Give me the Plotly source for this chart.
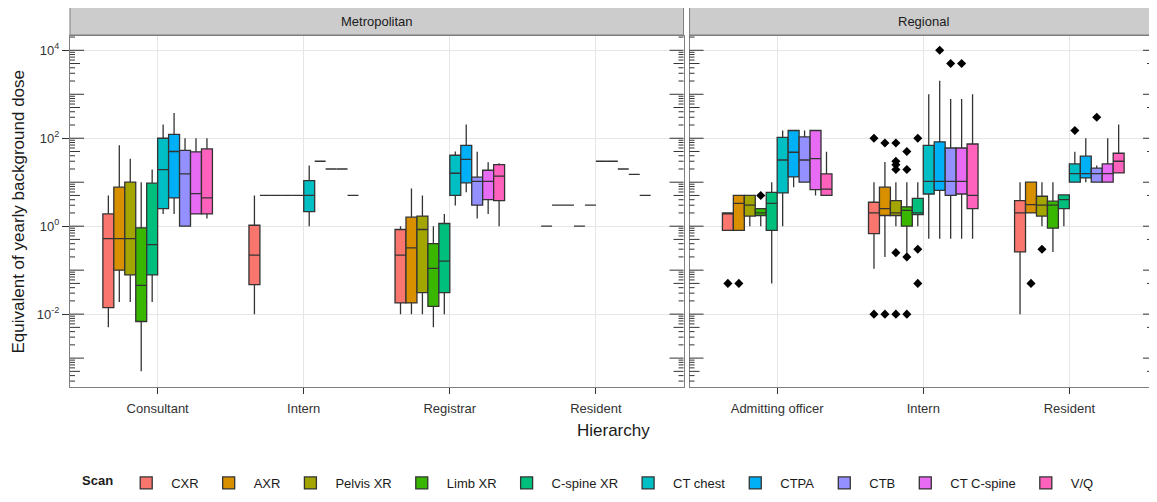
import math
import plotly.graph_objects as go
from plotly.subplots import make_subplots

scans = ["CXR", "AXR", "Pelvis XR", "Limb XR", "C-spine XR",
         "CT chest", "CTPA", "CTB", "CT C-spine", "V/Q"]
scan_colors = ["#F8766D", "#D89000", "#A3A500", "#39B600", "#00BF7D",
               "#00BFC4", "#00B0F6", "#9590FF", "#E76BF3", "#FF62BC"]

# ---------------- Metropolitan (rows = scans, cols = categories) ----------------
metro_cats = ["Consultant", "Intern", "Registrar", "Resident"]
metro_lo = [
    [0.005, 0.01, 0.01, 1], [0.019, 5, 0.01, 3], [0.019, 5, 0.01, 3],
    [0.0005, 5, 0.005, 1], [0.019, 5, 0.01, 3], [1.9, 1, 2.95, 30],
    [1.9, 30, 5.9, 30], [1, 20, 1.5, 20], [1.9, 20, 1.9, 15], [1.5, 5, 1, 5]]
metro_q1 = [
    [0.014, 0.047, 0.018, 1], [0.1, 5, 0.018, 3], [0.078, 5, 0.031, 3],
    [0.0068, 5, 0.015, 1], [0.078, 5, 0.031, 3], [2.5, 2.15, 5, 30],
    [4.4, 30, 9.7, 30], [1, 20, 3, 20], [1.9, 20, 4, 15], [1.9, 5, 3.8, 5]]
metro_med = [
    [0.52, 0.22, 0.22, 1], [0.52, 5, 0.32, 3], [0.52, 5, 0.84, 3],
    [0.045, 5, 0.11, 1], [0.38, 5, 0.16, 3], [19.4, 5, 16, 30],
    [50, 30, 33, 30], [15.5, 20, 10.4, 20], [5.5, 20, 10.4, 15], [4.4, 5, 13.7, 5]]
metro_q3 = [
    [1.9, 1.05, 0.84, 1], [7.7, 5, 1.6, 3], [10, 5, 1.7, 3],
    [0.92, 5, 0.40, 1], [9.5, 5, 1.15, 3], [100, 10.9, 41, 30],
    [123, 30, 69, 30], [53, 20, 13, 20], [49, 20, 18.7, 15], [57, 5, 25, 5]]
metro_hi = [
    [5, 5, 1, 1], [69, 5, 7.2, 3], [34, 5, 5, 3],
    [10, 5, 1, 1], [19.4, 5, 1.9, 3], [204, 24, 50, 30],
    [377, 30, 204, 30], [100, 20, 49, 20], [100, 20, 28.5, 15], [100, 5, 27, 5]]
metro_out_cat = []
metro_out_scan = []
metro_out_val = []

# ---------------- Regional ----------------
reg_cats = ["Admitting officer", "Intern", "Resident"]
reg_lo = [
    [0.8, 0.107, 0.01], [0.8, 0.2, 2.0], [1, 1, 1], [1, 0.25, 0.26], [0.05, 1, 1],
    [1, 0.52, 10], [7.7, 0.52, 10], [10, 0.52, 10], [5, 0.52, 10], [5, 0.52, 16.3]]
reg_q1 = [
    [0.8, 0.68, 0.26], [0.8, 1.75, 2.0], [1.7, 1.75, 1.7], [1.75, 1, 0.9], [0.8, 1.84, 2.5],
    [5.7, 5.4, 10], [13.2, 6.5, 12.5], [10, 5, 10], [6.8, 5.4, 10], [5, 2.5, 16.3]]
reg_med = [
    [2.0, 2.0, 2.0], [3.3, 2.5, 3.1], [3, 2, 3], [2.0, 2.3, 3], [3.3, 2.0, 4],
    [32, 10.4, 15.7], [48, 10.4, 15.7], [32, 10.4, 15.7], [34.5, 10.4, 15.7], [7, 5, 30]]
reg_q3 = [
    [2.0, 3.5, 3.8], [5, 7.7, 10], [5, 3.8, 4.8], [2.5, 2.75, 3.7], [5.9, 4.3, 5.15],
    [105, 69, 26], [150, 83, 39], [107, 60, 21], [150, 60, 26], [15.5, 74, 45.6]]
reg_hi = [
    [2.0, 10, 10], [5, 29, 10], [5, 10, 10], [2.5, 10, 10], [10, 10, 5.15],
    [150, 1000, 49], [150, 2040, 100], [150, 780, 24], [150, 780, 100], [49, 1000, 204]]
reg_out_cat = ["Admitting officer", "Admitting officer", "Admitting officer",
               "Intern", "Intern", "Intern", "Intern",
               "Intern", "Intern", "Intern", "Intern", "Intern", "Intern",
               "Intern", "Intern", "Intern", "Intern",
               "Intern", "Intern", "Intern",
               "Intern", "Intern", "Intern",
               "Resident", "Resident", "Resident", "Resident"]
reg_out_scan = ["CXR", "AXR", "Limb XR",
                "CXR", "CXR", "AXR", "AXR",
                "Pelvis XR", "Pelvis XR", "Pelvis XR", "Pelvis XR", "Pelvis XR", "Pelvis XR",
                "Limb XR", "Limb XR", "Limb XR", "Limb XR",
                "C-spine XR", "C-spine XR", "C-spine XR",
                "CTPA", "CTB", "CT C-spine",
                "AXR", "Pelvis XR", "CT chest", "CTB"]
reg_out_val = [0.05, 0.05, 5,
               100, 0.01, 78, 0.01,
               78, 30, 25, 19.4, 0.25, 0.01,
               50, 19.4, 0.2, 0.01,
               100, 0.3, 0.05,
               10000, 5000, 5000,
               0.05, 0.3, 150, 300]

y_tickvals = [1e-2, 1, 1e2, 1e4]
y_ticktext = ["10<sup>-2</sup>", "10<sup>0</sup>", "10<sup>2</sup>", "10<sup>4</sup>"]
LOG_RANGE = [-3.657, 4.325]

# figure geometry (page body adds an 8px margin, so the figure is 8px smaller)
W, H = 1149, 494
ML, MR, MT, MB = 62, 0, 28, 115
PW = W - ML - MR
PH = H - MT - MB


def outlier_lists(cats, oc, os_, ov):
    # one list of sample points per box; a null keeps empty boxes well-formed
    m = [[[] for _ in cats] for _ in scans]
    for c, s, v in zip(oc, os_, ov):
        m[scans.index(s)][cats.index(c)].append(v)
    return [[pts if pts else [None] for pts in row] for row in m]


panels = [
    (metro_cats, metro_lo, metro_q1, metro_med, metro_q3, metro_hi,
     outlier_lists(metro_cats, metro_out_cat, metro_out_scan, metro_out_val)),
    (reg_cats, reg_lo, reg_q1, reg_med, reg_q3, reg_hi,
     outlier_lists(reg_cats, reg_out_cat, reg_out_scan, reg_out_val)),
]

fig = make_subplots(rows=1, cols=2, shared_yaxes=True,
                    column_widths=[4.2, 3.2], horizontal_spacing=6 / PW)

for col, (cats, lo, q1, med, q3, hi, outs) in enumerate(panels, start=1):
    for k, scan in enumerate(scans):
        fig.add_trace(go.Box(
            x=cats, y=outs[k], q1=q1[k], median=med[k], q3=q3[k],
            lowerfence=lo[k], upperfence=hi[k], orientation="v",
            boxpoints="outliers", pointpos=0, jitter=0,
            name=scan, legendgroup=scan, showlegend=(col == 1),
            offsetgroup=scan, alignmentgroup="scans",
            fillcolor=scan_colors[k], line=dict(color="#333333", width=1.3),
            whiskerwidth=0,
            marker=dict(color="black", symbol="diamond", size=7),
            hoverinfo="skip"), row=1, col=col)

# axes
axis_common = dict(showline=True, mirror=True, linecolor="#7F7F7F", linewidth=1,
                   showgrid=True, gridcolor="#E6E6E6", gridwidth=1, zeroline=False,
                   automargin=False, tickfont=dict(size=13, color="#333333"))
fig.update_xaxes(type="category", ticks="outside", ticklen=6, tickcolor="#333333",
                 ticklabelstandoff=3, **axis_common)
fig.update_xaxes(range=[-0.6, 3.6], categoryorder="array", categoryarray=metro_cats,
                 row=1, col=1)
fig.update_xaxes(range=[-0.6, 2.6], categoryorder="array", categoryarray=reg_cats,
                 row=1, col=2)
fig.update_yaxes(type="log", range=LOG_RANGE, tickvals=y_tickvals, ticktext=y_ticktext,
                 **axis_common)
fig.update_yaxes(ticks="outside", ticklen=7, tickcolor="#333333", row=1, col=1)
fig.update_yaxes(ticks="", showticklabels=False, row=1, col=2)

shapes = []
annotations = []
lo_exp, hi_exp = LOG_RANGE
for xref, yref, label in [("x domain", "y domain", "Metropolitan"),
                          ("x2 domain", "y2 domain", "Regional")]:
    # strip
    shapes.append(dict(type="rect", xref=xref, yref=yref, x0=0, x1=1,
                       ysizemode="pixel", yanchor=1, y0=1, y1=29,
                       fillcolor="#CCCCCC", line=dict(color="#7F7F7F", width=1)))
    annotations.append(dict(text=label, xref=xref, yref=yref, x=0.5, y=1,
                            yanchor="middle", yshift=15, showarrow=False,
                            font=dict(size=13, color="#1A1A1A")))
    # log ticks on left and right of the panel
    dataref = "y" if yref == "y domain" else "y2"
    for d in range(-4, 5):
        for m in range(1, 10):
            v = m * 10 ** d
            lv = math.log10(v)
            if lv < lo_exp or lv > hi_exp:
                continue
            L = 14 if m == 1 else (10 if m == 5 else 5)
            for anchor, x0, x1 in [(0, 0, L), (1, -L, 0)]:
                shapes.append(dict(type="line", xref=xref, yref=dataref,
                                   xsizemode="pixel", xanchor=anchor, x0=x0, x1=x1,
                                   y0=v, y1=v, line=dict(color="#333333", width=1)))

annotations.append(dict(text="Equivalent of yearly background dose", xref="paper",
                        yref="paper", x=-52 / PW, y=0.5, textangle=-90,
                        xanchor="center", yanchor="middle", showarrow=False,
                        font=dict(size=17, color="#1A1A1A")))
annotations.append(dict(text="Hierarchy", xref="paper", yref="paper",
                        x=0.5, y=-43 / PH, xanchor="center", yanchor="middle",
                        showarrow=False, font=dict(size=17, color="#1A1A1A")))

fig.update_layout(
    width=W, height=H,
    margin=dict(l=ML, r=MR, t=MT, b=MB),
    plot_bgcolor="white", paper_bgcolor="white",
    boxmode="group", boxgap=0.25, boxgroupgap=0,
    font=dict(family="Liberation Sans, Arial, sans-serif", color="#1A1A1A"),
    shapes=shapes, annotations=annotations,
    legend=dict(orientation="h", x=0.478, xanchor="center",
                y=-96 / PH, yanchor="middle",
                title=dict(text="<b>Scan</b>", font=dict(size=13)),
                font=dict(size=13, color="#1A1A1A"), itemwidth=40,
                traceorder="normal"),
)

fig.write_html("out.html")
